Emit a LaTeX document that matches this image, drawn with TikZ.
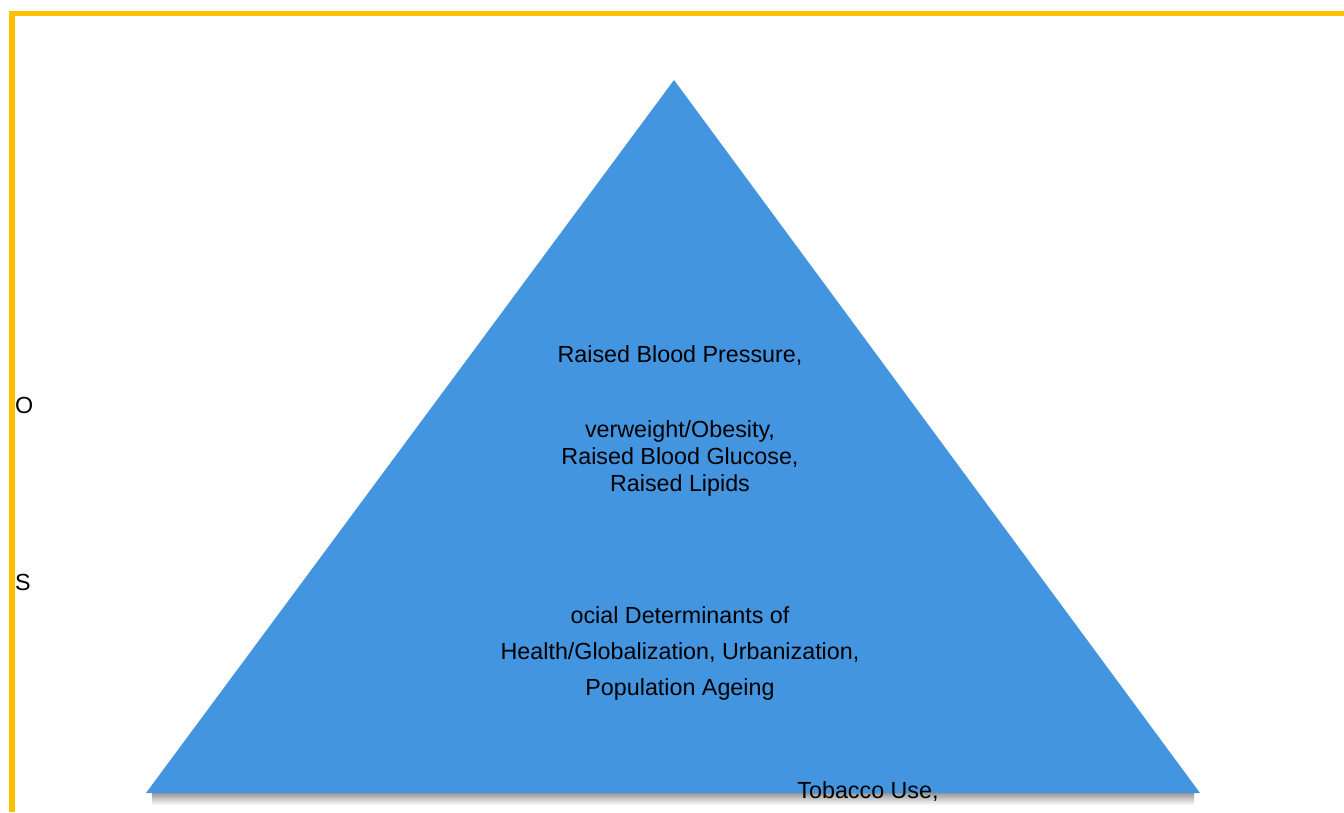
\documentclass[tikz,border=0pt]{standalone}
\usepackage{fontspec}
\setmainfont{Liberation Sans}
\begin{document}
\begin{tikzpicture}[x=1pt,y=-1pt,
  lbl/.style={inner sep=0pt,font=\fontsize{23.3}{27}\selectfont,align=center,text=black},
  lbl2/.style={lbl,font=\fontsize{23.3}{36}\selectfont}]
\useasboundingbox (0,0) rectangle (1344,812);
\fill[white] (0,0) rectangle (1344,812);
% border
\fill[fill={rgb,255:red,255;green,192;blue,0}] (9,11) rectangle (1344,16);
\fill[fill={rgb,255:red,255;green,192;blue,0}] (9,11) rectangle (15,812);
% shadow
\shade[top color=black!40,bottom color=white] (152,793) rectangle (1194,805);
% triangle
\coordinate (apex) at (674,80);
\coordinate (bl) at (146,793);
\coordinate (br) at (1200,793);
\fill[fill={rgb,255:red,68;green,149;blue,224}] (apex) -- (br) -- (bl) -- cycle;
% texts
\node[lbl] (t1) at (680,356) {Raised Blood Pressure,};
\node[lbl] (t2) at (680,458) {verweight/Obesity,\\Raised Blood Glucose,\\Raised Lipids};
\node[lbl2] (t3) at (680,653) {ocial Determinants of\\Health/Globalization, Urbanization,\\Population Ageing};
\node[lbl] (t4) at (868,792) {Tobacco Use,};
\node[lbl,anchor=west] (o) at (15,405) {O};
\node[lbl,anchor=west] (s) at (15,582) {S};
\end{tikzpicture}
\end{document}
